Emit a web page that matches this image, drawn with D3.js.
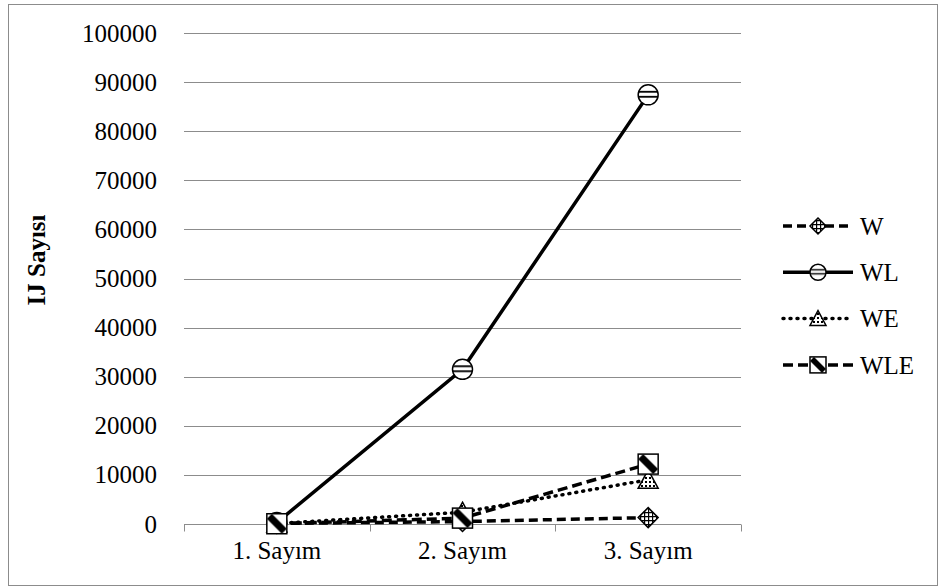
<!DOCTYPE html>
<html>
<head>
<meta charset="utf-8">
<script src="https://cdn.jsdelivr.net/npm/d3@7"></script>
<style>
  text { font-family: "Liberation Serif"; }
</style>
</head>
<body style="margin:0">
<svg id="chart" width="941" height="587" font-family="Liberation Serif"></svg>
<script>
// Counts per census round for each treatment
const categories = ["1. Sayım", "2. Sayım", "3. Sayım"];
const seriesNames = ["W", "WL", "WE", "WLE"];
const valuesW   = [100, 500, 1300];
const valuesWL  = [300, 31500, 87400];
const valuesWE  = [100, 2400, 9000];
const valuesWLE = [50, 1200, 12200];
const yTicks = [0, 10000, 20000, 30000, 40000, 50000, 60000, 70000, 80000, 90000, 100000];
const yTitle = "IJ Sayısı";

const FONT = "Liberation Serif";
const FS = 25;

const series = [
  { name: seriesNames[0], values: valuesW,   dash: "9,5",  marker: "diamond",  fill: "url(#pGrid)" },
  { name: seriesNames[1], values: valuesWL,  dash: null,   marker: "circle",   fill: "url(#pHoriz)" },
  { name: seriesNames[2], values: valuesWE,  dash: "1,6",  marker: "triangle", fill: "url(#pDots)", cap: "round" },
  { name: seriesNames[3], values: valuesWLE, dash: "10,5", marker: "square",   fill: "url(#pDiag)" }
];

const svg = d3.select("#chart");

// Text helper: serif family applied both as attribute and inline style
function serif(sel) {
  return sel.attr("font-family", FONT).style("font-family", `"${FONT}"`)
    .attr("font-size", FS).style("font-size", FS + "px").attr("fill", "#000");
}

// Outer chart frame
svg.append("rect").attr("x", 8.5).attr("y", 4.5).attr("width", 929).attr("height", 581)
  .attr("fill", "#fff").attr("stroke", "#8c8c8c").attr("stroke-width", 1);

// Marker fill patterns
const defs = svg.append("defs");
const pg = defs.append("pattern").attr("id", "pGrid").attr("patternUnits", "userSpaceOnUse")
  .attr("width", 4).attr("height", 4);
pg.append("rect").attr("width", 4).attr("height", 4).attr("fill", "#fff");
pg.append("path").attr("d", "M0,0.5H4M0.5,0V4").attr("stroke", "#000").attr("stroke-width", 1.4);

const ph = defs.append("pattern").attr("id", "pHoriz").attr("patternUnits", "objectBoundingBox")
  .attr("width", 1).attr("height", 1).attr("patternContentUnits", "objectBoundingBox");
ph.append("rect").attr("width", 1).attr("height", 1).attr("fill", "#fff");
ph.append("rect").attr("x", 0).attr("y", 0.3).attr("width", 1).attr("height", 0.09).attr("fill", "#000");
ph.append("rect").attr("x", 0).attr("y", 0.55).attr("width", 1).attr("height", 0.09).attr("fill", "#000");

const pd = defs.append("pattern").attr("id", "pDots").attr("patternUnits", "userSpaceOnUse")
  .attr("width", 4).attr("height", 4);
pd.append("rect").attr("width", 4).attr("height", 4).attr("fill", "#fff");
pd.append("rect").attr("x", 1).attr("y", 1).attr("width", 2).attr("height", 2).attr("fill", "#000");

const pdg = defs.append("pattern").attr("id", "pDiag").attr("patternUnits", "objectBoundingBox")
  .attr("width", 1).attr("height", 1).attr("patternContentUnits", "objectBoundingBox");
pdg.append("rect").attr("width", 1).attr("height", 1).attr("fill", "#fff");
pdg.append("path").attr("d", "M0,0.25L0.25,0L1,0.75L0.75,1Z").attr("fill", "#000");

// Scales
const x = d3.scaleBand().domain(categories).range([184, 741]).padding(0);
const y = d3.scaleLinear().domain([0, 100000]).range([524, 33]);

// Horizontal gridlines
svg.append("g").selectAll("line").data(yTicks.slice(1)).join("line")
  .attr("x1", 184).attr("x2", 741)
  .attr("y1", d => Math.round(y(d)) + 0.5).attr("y2", d => Math.round(y(d)) + 0.5)
  .attr("stroke", "#8c8c8c").attr("stroke-width", 1);

// Y axis tick labels (axis line hidden)
const yAxis = svg.append("g").attr("transform", "translate(184,0)")
  .call(d3.axisLeft(y).tickValues(yTicks).tickSize(0).tickPadding(27).tickFormat(d3.format("d")));
yAxis.select(".domain").remove();
yAxis.attr("font-family", FONT).attr("font-size", FS);
serif(yAxis.selectAll("text"));

// X axis with tick marks at band edges
const xg = svg.append("g").attr("transform", "translate(0,524.5)");
xg.append("line").attr("x1", 184).attr("x2", 741).attr("stroke", "#8c8c8c");
xg.selectAll("line.tk").data(categories.concat([null])).join("line").attr("class", "tk")
  .attr("x1", (d, i) => Math.round(x.range()[0] + i * x.step()) + 0.5)
  .attr("x2", (d, i) => Math.round(x.range()[0] + i * x.step()) + 0.5)
  .attr("y1", 0).attr("y2", 7).attr("stroke", "#8c8c8c");
serif(xg.selectAll("text").data(categories).join("text")
  .attr("x", d => x(d) + x.bandwidth() / 2).attr("y", 34)
  .attr("text-anchor", "middle")).text(d => d);

// Y title
serif(svg.append("text").attr("transform", "translate(45,260) rotate(-90)")
  .attr("text-anchor", "middle")).attr("font-weight", "bold").style("font-weight", "bold").text(yTitle);

// Marker shape drawing
function drawMarker(g, s, cx, cy, r) {
  let el;
  if (s.marker === "circle") {
    el = g.append("circle").attr("cx", cx).attr("cy", cy).attr("r", r);
  } else if (s.marker === "diamond") {
    el = g.append("path").attr("d", `M${cx},${cy - r}L${cx + r},${cy}L${cx},${cy + r}L${cx - r},${cy}Z`);
  } else if (s.marker === "triangle") {
    el = g.append("path").attr("d", `M${cx},${cy - r}L${cx + r},${cy + r * 0.85}L${cx - r},${cy + r * 0.85}Z`);
  } else {
    el = g.append("rect").attr("x", cx - r).attr("y", cy - r).attr("width", 2 * r).attr("height", 2 * r);
  }
  el.attr("fill", s.fill).attr("stroke", "#000").attr("stroke-width", 1.5);
}

const line = d3.line().x((d, i) => x(categories[i]) + x.bandwidth() / 2).y(d => y(d));

series.forEach(s => {
  const g = svg.append("g");
  g.append("path").datum(s.values).attr("d", line)
    .attr("fill", "none").attr("stroke", "#000").attr("stroke-width", 3.5)
    .attr("stroke-dasharray", s.dash).attr("stroke-linecap", s.cap || "butt");
  s.values.forEach((v, i) => drawMarker(g, s, x(categories[i]) + x.bandwidth() / 2, y(v), 10));
});

// Legend
const legend = svg.append("g");
series.forEach((s, i) => {
  const ly = 226 + i * 46.3;
  const g = legend.append("g");
  g.append("line").attr("x1", 783).attr("x2", 853).attr("y1", ly).attr("y2", ly)
    .attr("stroke", "#000").attr("stroke-width", 3.5)
    .attr("stroke-dasharray", s.dash).attr("stroke-linecap", s.cap || "butt");
  drawMarker(g, s, 818, ly, 8);
  serif(g.append("text").attr("x", 860).attr("y", ly).attr("dy", "0.35em")).text(s.name);
});
</script>
</body>
</html>
